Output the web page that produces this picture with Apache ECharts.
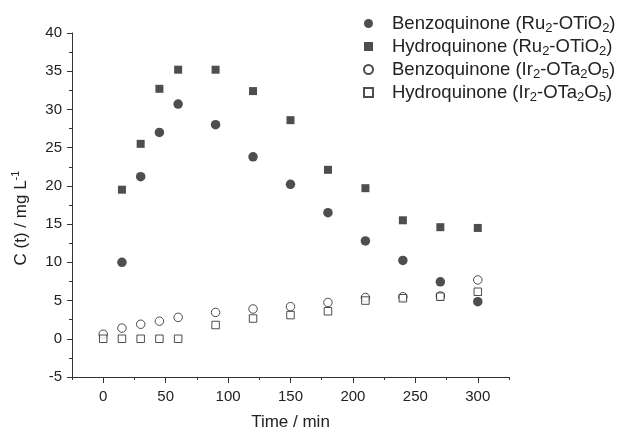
<!DOCTYPE html>
<html>
<head>
<meta charset="utf-8">
<script src="https://cdn.jsdelivr.net/npm/echarts@6/dist/echarts.min.js"></script>
<style>
  html, body { margin: 0; padding: 0; background: #fff; }
  #chart { width: 621px; height: 429px; }
</style>
</head>
<body>
<div id="chart"></div>
<script>
// 时间 (min)
var times = [0, 15, 30, 45, 60, 90, 120, 150, 180, 210, 240, 270, 300];
// 各系列浓度 (mg/L)，null 表示无数据
var bqRu = [null, 10.0, 21.2, 27.0, 30.7, 28.0, 23.8, 20.2, 16.5, 12.8, 10.25, 7.45, 4.85];
var hqRu = [null, 19.5, 25.5, 32.7, 35.2, 35.2, 32.4, 28.6, 22.1, 19.7, 15.5, 14.6, 14.5];
var bqIr = [0.6, 1.4, 1.9, 2.3, 2.8, 3.45, 3.9, 4.2, 4.75, 5.4, 5.5, 5.6, 7.7];
var hqIr = [0.0, 0.0, 0.0, 0.0, 0.0, 1.8, 2.65, 3.1, 3.6, 5.0, 5.3, 5.5, 6.15];
var xTicks = [0, 50, 100, 150, 200, 250, 300];
var xMinorTicks = [-25, 25, 75, 125, 175, 225, 275, 325];

var names = ['bqRu', 'hqRu', 'bqIr', 'hqIr'];
// 图例文字（带下标的富文本）
var legendText = {
    bqRu: '{f|Benzoquinone (Ru}{s|2}{n|-OTiO}{s|2}{n|)}',
    hqRu: '{f|Hydroquinone (Ru}{s|2}{n|-OTiO}{s|2}{n|)}',
    bqIr: '{f|Benzoquinone (Ir}{s|2}{n|-OTa}{s|2}{n|O}{s|5}{n|)}',
    hqIr: '{f|Hydroquinone (Ir}{s|2}{n|-OTa}{s|2}{n|O}{s|5}{n|)}'
};

var dark = '#222';
var font = 'Liberation Sans, Arial, sans-serif';

function pairs(arr) {
    var out = [];
    for (var i = 0; i < times.length; i++) {
        if (arr[i] !== null) out.push([times[i], arr[i]]);
    }
    return out;
}

function makeSeries(name, arr, symbol, filled) {
    var size = filled ? (symbol === 'circle' ? 9.5 : 8) : (symbol === 'circle' ? 8.5 : 7.5);
    return {
        name: name,
        type: 'scatter',
        data: pairs(arr),
        symbol: symbol,
        symbolSize: size,
        xAxisIndex: 0,
        itemStyle: filled ? { color: dark } : { color: '#fff', borderColor: dark, borderWidth: 1 }
    };
}

var chart = echarts.init(document.getElementById('chart'));
chart.setOption({
    animation: false,
    backgroundColor: '#fff',
    textStyle: { fontFamily: font },
    grid: { left: 72, right: 112, top: 33, bottom: 52, outerBoundsMode: 'none', containLabel: false },
    legend: {
        orient: 'vertical',
        left: 358,
        top: 7,
        itemWidth: 9,
        itemHeight: 9,
        itemGap: 0,
        data: names,
        formatter: function (name) { return legendText[name]; },
        textStyle: {
            color: dark,
            rich: {
                f: { fontSize: 18.5, lineHeight: 23, padding: [0, 0, 0, 14], color: dark, fontFamily: font },
                n: { fontSize: 18.5, lineHeight: 23, color: dark, fontFamily: font },
                s: { fontSize: 13, lineHeight: 13, padding: [10, 0, 0, 0], color: dark, fontFamily: font }
            }
        }
    },
    xAxis: [{
        type: 'value',
        min: -25,
        max: 325,
        name: 'Time / min',
        nameLocation: 'middle',
        nameGap: 37,
        nameTextStyle: { fontSize: 17, color: dark },
        splitLine: { show: false },
        axisLine: { onZero: false, lineStyle: { color: '#333', width: 1 } },
        axisTick: { length: 6, customValues: xTicks, lineStyle: { color: '#333' } },
        axisLabel: { customValues: xTicks, fontSize: 15, color: dark, margin: 12 }
    }, {
        type: 'value',
        min: -25,
        max: 325,
        position: 'bottom',
        splitLine: { show: false },
        axisLine: { show: false, onZero: false },
        axisTick: { length: 3, customValues: xMinorTicks, lineStyle: { color: '#333' } },
        axisLabel: { show: false }
    }],
    yAxis: {
        type: 'value',
        min: -5,
        max: 40,
        interval: 5,
        name: '{t|C (t) / mg L}{p|-1}',
        nameLocation: 'middle',
        nameGap: 40,
        nameTextStyle: {
            padding: [0, 26, 0, 0],
            rich: {
                t: { fontSize: 17, lineHeight: 22, color: dark, fontFamily: font },
                p: { fontSize: 11, lineHeight: 12, padding: [0, 0, 10, 0], color: dark, fontFamily: font }
            }
        },
        splitLine: { show: false },
        axisLine: { onZero: false, lineStyle: { color: '#333', width: 1 } },
        axisTick: { length: 5, lineStyle: { color: '#333' } },
        minorTick: { show: true, splitNumber: 2, length: 3, lineStyle: { color: '#333' } },
        axisLabel: { fontSize: 15, color: dark, margin: 10 }
    },
    series: [
        makeSeries('bqRu', bqRu, 'circle', true),
        makeSeries('hqRu', hqRu, 'rect', true),
        makeSeries('bqIr', bqIr, 'circle', false),
        makeSeries('hqIr', hqIr, 'rect', false)
    ]
});
</script>
</body>
</html>
